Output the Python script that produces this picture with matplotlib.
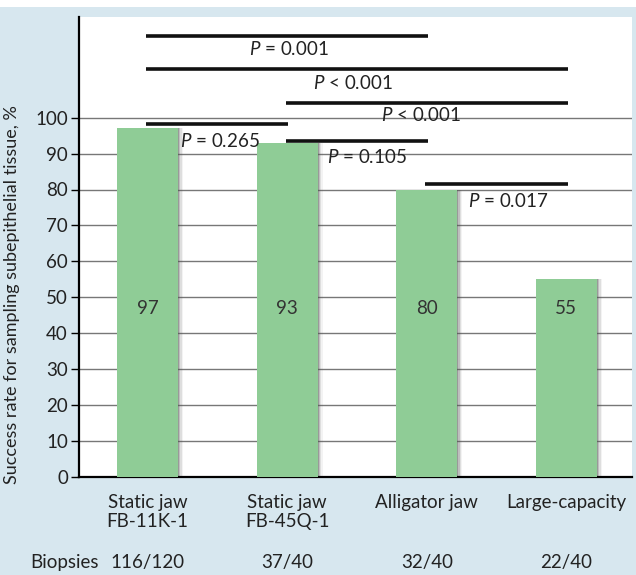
import matplotlib
matplotlib.use('Agg')
import matplotlib.pyplot as plt
import numpy as np

fam = 'Lato'
plt.rcParams['font.family'] = [fam, 'DejaVu Sans']
plt.rcParams['mathtext.fontset'] = 'custom'
plt.rcParams['mathtext.it'] = fam + ':italic'
plt.rcParams['mathtext.rm'] = fam

# data
categories = ['Static jaw\nFB-11K-1', 'Static jaw\nFB-45Q-1', 'Alligator jaw', 'Large-capacity']
success = [97, 93, 80, 55]
biopsies = ['116/120', '37/40', '32/40', '22/40']
# comparisons: (bar a, bar b, line height, label, label x, label y)
comparisons = [
    (0, 2, 122.6, r'$P$ = 0.001', 1.01, 119.2),
    (0, 3, 113.6, r'$P$ < 0.001', 1.47, 109.7),
    (1, 3, 104.2, r'$P$ < 0.001', 1.96, 100.6),
    (0, 1, 98.1, r'$P$ = 0.265', 0.52, 93.6),
    (1, 2, 93.6, r'$P$ = 0.105', 1.57, 89.1),
    (2, 3, 81.6, r'$P$ = 0.017', 2.58, 76.9),
]

bg = '#d7e7ef'
bar_col = '#8fcc96'
txt = '#222222'
fs = 13.5

fig = plt.figure(figsize=(6.36, 5.75), dpi=100, facecolor=bg)
fig.patches.append(plt.Rectangle((0, 1 - 7 / 575), 1, 7 / 575, transform=fig.transFigure,
                                 facecolor='white', edgecolor='none', zorder=0))
ax = fig.add_axes([79 / 636, 98 / 575, 553 / 636, 460 / 575])
ax.set_facecolor('white')

x = np.arange(len(categories))
w = 0.437
# soft shadow on the right of each bar
for i, a in enumerate([0.35, 0.22, 0.13, 0.07]):
    ax.bar(x + 0.009 + i * 0.009, success, width=w, color='#555555', alpha=a,
           linewidth=0, zorder=2)
ax.bar(x, success, width=w, color=bar_col, linewidth=0, zorder=3)
for xi, v in zip(x, success):
    ax.text(xi, 47, str(v), ha='center', va='center', fontsize=fs, color='#333333', zorder=4)

for a, b, h, lab, lx, ly in comparisons:
    ax.plot([a - 0.01, b + 0.01], [h, h], color='#111111', lw=2.6, solid_capstyle='butt', zorder=5)
    ax.text(lx, ly, lab, ha='center', va='center', fontsize=fs, color=txt, zorder=5)

ax.set_xlim(-0.49, 3.47)
ax.set_ylim(0, 128)
ax.set_yticks(range(0, 101, 10))
ax.yaxis.grid(True, color='#777777', lw=1)
ax.set_axisbelow(True)
ax.set_xticks(x)
ax.set_xticklabels(categories, fontsize=fs, color=txt, linespacing=1.2)
ax.tick_params(axis='x', length=0, pad=12)
ax.tick_params(axis='y', length=6, width=1, labelsize=fs, labelcolor=txt, pad=2)
for s in ['top', 'right']:
    ax.spines[s].set_visible(False)
ax.spines['left'].set_linewidth(1.6)
ax.spines['bottom'].set_linewidth(1.6)
ax.set_ylabel('Success rate for sampling subepithelial tissue, %', fontsize=13, color=txt)
ax.yaxis.set_label_coords(-0.107, 0.396)

tr = ax.get_xaxis_transform()
ax.text(-0.84, -0.185, 'Biopsies', transform=tr, ha='left', va='center', fontsize=fs,
        color=txt, clip_on=False)
for xi, bl in zip(x, biopsies):
    ax.text(xi, -0.185, bl, transform=tr, ha='center', va='center', fontsize=fs,
            color=txt, clip_on=False)

fig.savefig('out.png', dpi=100, facecolor=bg)
